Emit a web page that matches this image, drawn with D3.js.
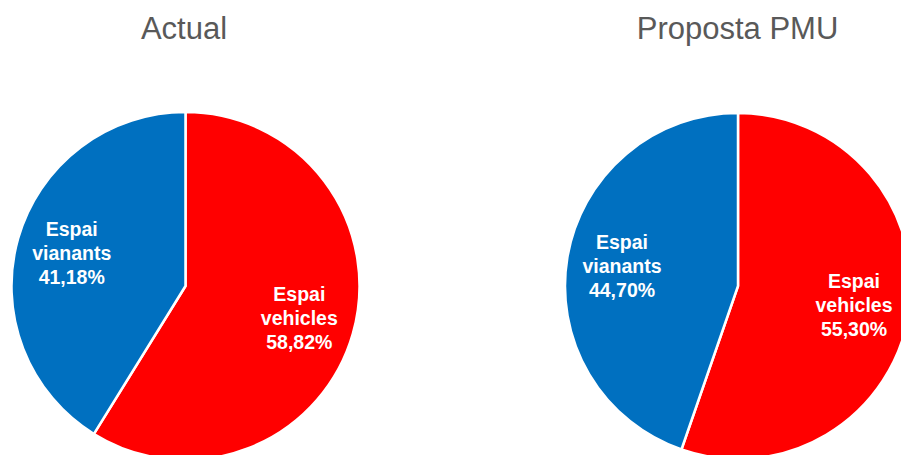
<!DOCTYPE html>
<html>
<head>
<meta charset="utf-8">
<script src="https://cdn.jsdelivr.net/npm/d3@7"></script>
<style>
  html, body { margin: 0; padding: 0; background: #ffffff; }
  svg { display: block; font-family: "Liberation Sans", Arial, sans-serif; }
</style>
</head>
<body>
<svg id="chart" width="901" height="455"></svg>
<script>
// Distribució de l'espai públic: situació actual i proposta del PMU
const charts = ["Actual", "Proposta PMU"];
const categories = ["Espai vehicles", "Espai vianants"];
const labelLines = [["Espai", "vehicles"], ["Espai", "vianants"]];
const actualValues = [58.82, 41.18];
const proposalValues = [55.30, 44.70];
const colors = ["#FF0000", "#0070C0"];

const svg = d3.select("#chart");
const width = 901;

const layout = [
  { cx: 185.5, cy: 286, r: 174, titleX: 184 },
  { cx: 738, cy: 286, r: 173, titleX: 737.5 }
];

const color = d3.scaleOrdinal().domain(categories).range(colors);
const fmt = v => d3.format(".2f")(v).replace(".", ",") + "%";

const pie = d3.pie().sort(null).value(d => d.value);

[actualValues, proposalValues].forEach((vals, i) => {
  const L = layout[i];
  const data = categories.map((c, k) => ({ category: c, value: vals[k], lines: labelLines[k] }));
  const arcs = pie(data);
  const arc = d3.arc().innerRadius(0).outerRadius(L.r);
  const labelArc = d3.arc().innerRadius(L.r * 0.68).outerRadius(L.r * 0.68);

  svg.append("text")
    .attr("x", L.titleX)
    .attr("y", 39)
    .attr("text-anchor", "middle")
    .attr("font-size", "31px")
    .attr("fill", "#595959")
    .text(charts[i]);

  const g = svg.append("g").attr("transform", `translate(${L.cx},${L.cy})`);

  g.selectAll("path")
    .data(arcs)
    .join("path")
    .attr("d", arc)
    .attr("fill", d => color(d.data.category))
    .attr("stroke", "#ffffff")
    .attr("stroke-width", 2.5)
    .attr("stroke-linejoin", "round");

  const labels = g.selectAll("text.lbl")
    .data(arcs)
    .join("text")
    .attr("class", "lbl")
    .attr("transform", d => `translate(${labelArc.centroid(d)})`)
    .attr("text-anchor", "middle")
    .attr("fill", "#ffffff")
    .attr("font-weight", "bold")
    .attr("font-size", "19.5px");

  labels.each(function (d) {
    const t = d3.select(this);
    const lines = [...d.data.lines, fmt(d.data.value)];
    lines.forEach((s, j) => {
      t.append("tspan")
        .attr("x", 0)
        .attr("y", (j - 1) * 24)
        .attr("dy", "0.35em")
        .text(s);
    });
  });
});
</script>
</body>
</html>
